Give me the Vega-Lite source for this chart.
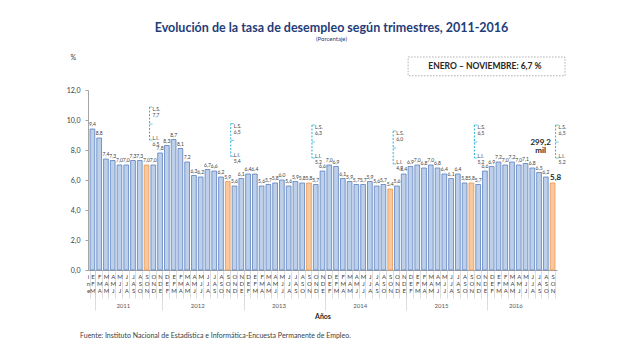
{
"$schema": "https://vega.github.io/schema/vega-lite/v6.json",
"width": 469, "height": 180,
"autosize": "none",
"padding": {"left": 88, "top": 90, "right": 83, "bottom": 90},
"background": "white",
"config": {"font": "Lato", "view": {"stroke": null}},
"title": {"text": "Evolución de la tasa de desempleo según trimestres, 2011-2016", "subtitle": "(Porcentaje)", "anchor": "middle", "frame": "group", "fontSize": 12.5, "fontWeight": "bold", "color": "#1f3d7a", "subtitleFontSize": 6, "subtitleColor": "#1f3d7a", "subtitlePadding": 2, "offset": 11, "dx": 9},
"datasets": {
"trim": [
{"key":"2011 EFM","m":"EFM","v":9.4},{"key":"2011 FMA","m":"FMA","v":8.8},{"key":"2011 MAM","m":"MAM","v":7.4},{"key":"2011 AMJ","m":"AMJ","v":7.3},{"key":"2011 MJJ","m":"MJJ","v":7.0},{"key":"2011 JJA","m":"JJA","v":7.0},{"key":"2011 JAS","m":"JAS","v":7.3},{"key":"2011 ASO","m":"ASO","v":7.3},{"key":"2011 SON","m":"SON","v":7.0,"ls":7.7,"li":6.5},{"key":"2011 OND","m":"OND","v":7.0},
{"key":"2012 NDE","m":"NDE","v":7.8},{"key":"2012 DEF","m":"DEF","v":8.3},{"key":"2012 EFM","m":"EFM","v":8.7},{"key":"2012 FMA","m":"FMA","v":8.1},{"key":"2012 MAM","m":"MAM","v":7.2},{"key":"2012 AMJ","m":"AMJ","v":6.3},{"key":"2012 MJJ","m":"MJJ","v":6.2},{"key":"2012 JJA","m":"JJA","v":6.7},{"key":"2012 JAS","m":"JAS","v":6.6},{"key":"2012 ASO","m":"ASO","v":6.2},{"key":"2012 SON","m":"SON","v":5.9,"ls":6.5,"li":5.4},{"key":"2012 OND","m":"OND","v":5.6},
{"key":"2013 NDE","m":"NDE","v":6.1},{"key":"2013 DEF","m":"DEF","v":6.4},{"key":"2013 EFM","m":"EFM","v":6.4},{"key":"2013 FMA","m":"FMA","v":5.6},{"key":"2013 MAM","m":"MAM","v":5.7},{"key":"2013 AMJ","m":"AMJ","v":5.8},{"key":"2013 MJJ","m":"MJJ","v":6.0},{"key":"2013 JJA","m":"JJA","v":5.6},{"key":"2013 JAS","m":"JAS","v":5.9},{"key":"2013 ASO","m":"ASO","v":5.8},{"key":"2013 SON","m":"SON","v":5.8,"ls":6.3,"li":5.2},{"key":"2013 OND","m":"OND","v":5.7},
{"key":"2014 NDE","m":"NDE","v":6.6},{"key":"2014 DEF","m":"DEF","v":7.0},{"key":"2014 EFM","m":"EFM","v":6.9},{"key":"2014 FMA","m":"FMA","v":6.1},{"key":"2014 MAM","m":"MAM","v":5.9},{"key":"2014 AMJ","m":"AMJ","v":5.7},{"key":"2014 MJJ","m":"MJJ","v":5.7},{"key":"2014 JJA","m":"JJA","v":5.9},{"key":"2014 JAS","m":"JAS","v":5.6},{"key":"2014 ASO","m":"ASO","v":5.7},{"key":"2014 SON","m":"SON","v":5.4,"ls":6.0,"li":4.9},{"key":"2014 OND","m":"OND","v":5.6},
{"key":"2015 NDE","m":"NDE","v":6.4},{"key":"2015 DEF","m":"DEF","v":6.9},{"key":"2015 EFM","m":"EFM","v":7.0},{"key":"2015 FMA","m":"FMA","v":6.8},{"key":"2015 MAM","m":"MAM","v":7.0},{"key":"2015 AMJ","m":"AMJ","v":6.8},{"key":"2015 MJJ","m":"MJJ","v":6.4},{"key":"2015 JJA","m":"JJA","v":6.1},{"key":"2015 JAS","m":"JAS","v":6.4},{"key":"2015 ASO","m":"ASO","v":5.8},{"key":"2015 SON","m":"SON","v":5.8,"ls":6.5,"li":5.2},{"key":"2015 OND","m":"OND","v":5.7},
{"key":"2016 NDE","m":"NDE","v":6.6},{"key":"2016 DEF","m":"DEF","v":6.9},{"key":"2016 EFM","m":"EFM","v":7.2},{"key":"2016 FMA","m":"FMA","v":7.0},{"key":"2016 MAM","m":"MAM","v":7.2},{"key":"2016 AMJ","m":"AMJ","v":7.0},{"key":"2016 MJJ","m":"MJJ","v":7.1},{"key":"2016 JJA","m":"JJA","v":6.8},{"key":"2016 JAS","m":"JAS","v":6.5},{"key":"2016 ASO","m":"ASO","v":6.2},{"key":"2016 SON","m":"SON","v":5.8,"ls":6.5,"li":5.2,"mil":299.2}
],
"notes": [{"box": "ENERO – NOVIEMBRE: 6,7 %", "src": "Fuente: Instituto Nacional de Estadística e Informática-Encuesta Permanente de Empleo."}]
},
"data": {"name": "trim"},
"transform": [{"calculate": "replace(format(datum.v,'.1f'),'.',',')", "as": "lbl"}],
"resolve": {"axis": {"x": "independent"}},
"layer": [
{
"mark": {"type": "bar", "strokeWidth": 0.8},
"encoding": {
"x": {"field": "key", "type": "nominal", "sort": null,
 "scale": {"paddingInner": 0.3, "paddingOuter": 0.3, "domain": ["2011 EFM","2011 FMA","2011 MAM","2011 AMJ","2011 MJJ","2011 JJA","2011 JAS","2011 ASO","2011 SON","2011 OND","2012 NDE","2012 DEF","2012 EFM","2012 FMA","2012 MAM","2012 AMJ","2012 MJJ","2012 JJA","2012 JAS","2012 ASO","2012 SON","2012 OND","2013 NDE","2013 DEF","2013 EFM","2013 FMA","2013 MAM","2013 AMJ","2013 MJJ","2013 JJA","2013 JAS","2013 ASO","2013 SON","2013 OND","2014 NDE","2014 DEF","2014 EFM","2014 FMA","2014 MAM","2014 AMJ","2014 MJJ","2014 JJA","2014 JAS","2014 ASO","2014 SON","2014 OND","2015 NDE","2015 DEF","2015 EFM","2015 FMA","2015 MAM","2015 AMJ","2015 MJJ","2015 JJA","2015 JAS","2015 ASO","2015 SON","2015 OND","2016 NDE","2016 DEF","2016 EFM","2016 FMA","2016 MAM","2016 AMJ","2016 MJJ","2016 JJA","2016 JAS","2016 ASO","2016 SON"]},
 "axis": {"orient": "bottom", "title": null, "labelExpr": "[substring(datum.value,5,6), substring(datum.value,6,7), substring(datum.value,7,8)]", "labelAngle": 0, "labelFontSize": 6, "labelColor": "#404040", "labelLineHeight": 7, "labelBaseline": "top", "labelPadding": -25, "tickBand": "extent", "tickSize": 28, "tickColor": "#c8c8c8", "tickWidth": 0.6, "domainColor": "#a6a6a6", "labelOverlap": false, "labelBound": false}},
"y": {"field": "v", "type": "quantitative", "scale": {"domain": [0, 12]},
 "axis": {"orient": "left", "title": "%", "titleAngle": 0, "titleX": -18, "titleY": -33, "titleFontSize": 7, "titleFontWeight": "normal", "titleColor": "#404040", "titleAlign": "left", "titleBaseline": "middle", "values": [0,2,4,6,8,10,12], "tickCount": 7, "labelOverlap": false, "labelExpr": "replace(format(datum.value,'.1f'),'.',',')", "labelFontSize": 7, "labelColor": "#404040", "labelPadding": 5, "tickSize": 3, "tickColor": "#a6a6a6", "domainColor": "#a6a6a6", "grid": false}},
"fill": {"condition": {"test": "datum.m === 'SON'", "value": "#f8c9a0"}, "value": "#bdd0ea"},
"stroke": {"condition": {"test": "datum.m === 'SON'", "value": "#e8964b"}, "value": "#5b7fbf"}
}
},
{
"transform": [{"filter": "datum.key !== '2016 SON'"}],
"mark": {"type": "text", "fontSize": 5, "color": "#404040", "baseline": "bottom", "dy": -2},
"encoding": {
"x": {"field": "key", "type": "nominal", "sort": null,
 "axis": {"orient": "bottom", "title": "Años", "titleFontSize": 7, "titleFontWeight": "bold", "titleColor": "#262626", "titleY": 42, "titleBaseline": "top", "domain": false, "tickBand": "extent", "tickSize": 40, "tickColor": "#c8c8c8", "tickWidth": 0.6, "tickOpacity": {"condition": {"test": "datum.value === '2011 EFM' || substring(datum.value,5,8) === 'NDE'", "value": 1}, "value": 0}, "labelExpr": "indexof(['2011 JJA','2012 MJJ','2013 MJJ','2014 MJJ','2015 MJJ','2016 AMJ'], datum.value) >= 0 ? substring(datum.value,0,4) : ''", "labelAngle": 0, "labelFontSize": 6, "labelColor": "#595959", "labelBaseline": "top", "labelPadding": -8, "labelOffset": -3.4, "labelOverlap": false, "labelBound": false}},
"y": {"field": "v", "type": "quantitative"},
"text": {"field": "lbl"}
}
},
{
"transform": [{"filter": "datum.key === '2016 SON'"}],
"mark": {"type": "text", "fontSize": 8, "fontWeight": "bold", "color": "#262626", "baseline": "bottom", "dy": -1, "dx": 3},
"encoding": {
"x": {"field": "key", "type": "nominal", "sort": null, "axis": null},
"y": {"field": "v", "type": "quantitative"},
"text": {"field": "lbl"}
}
},
{
"transform": [{"filter": "isValid(datum.mil)"}, {"calculate": "replace(format(datum.mil,'.1f'),'.',',') + '\\nmil'", "as": "miltxt"}],
"mark": {"type": "text", "fontSize": 8, "fontWeight": "bold", "color": "#262626", "baseline": "bottom", "lineBreak": "\n", "lineHeight": 8, "dy": -36, "dx": -12},
"encoding": {
"x": {"field": "key", "type": "nominal", "sort": null, "axis": null},
"y": {"field": "v", "type": "quantitative"},
"text": {"field": "miltxt"}
}
},
{
"transform": [{"filter": "isValid(datum.ls)"}],
"mark": {"type": "rule", "color": "#2ab3d6", "strokeWidth": 1, "strokeDash": [2, 1.5], "xOffset": 3, "yOffset": -58, "y2Offset": -25},
"encoding": {
"x": {"field": "key", "type": "nominal", "sort": null, "axis": null},
"y": {"field": "v", "type": "quantitative"},
"y2": {"field": "v"}
}
},
{
"transform": [{"filter": "isValid(datum.ls)"}],
"mark": {"type": "tick", "color": "#2ab3d6", "size": 3, "thickness": 1, "xOffset": 4.5, "yOffset": -58},
"encoding": {
"x": {"field": "key", "type": "nominal", "sort": null, "axis": null},
"y": {"field": "v", "type": "quantitative"}
}
},
{
"transform": [{"filter": "isValid(datum.ls)"}],
"mark": {"type": "tick", "color": "#2ab3d6", "size": 3, "thickness": 1, "xOffset": 4.5, "yOffset": -41},
"encoding": {
"x": {"field": "key", "type": "nominal", "sort": null, "axis": null},
"y": {"field": "v", "type": "quantitative"}
}
},
{
"transform": [{"filter": "isValid(datum.ls)"}],
"mark": {"type": "tick", "color": "#2ab3d6", "size": 3, "thickness": 1, "xOffset": 4.5, "yOffset": -25},
"encoding": {
"x": {"field": "key", "type": "nominal", "sort": null, "axis": null},
"y": {"field": "v", "type": "quantitative"}
}
},
{
"transform": [{"filter": "isValid(datum.ls)"}, {"calculate": "'L.S.\\n' + replace(format(datum.ls,'.1f'),'.',',')", "as": "lstxt"}],
"mark": {"type": "text", "fontSize": 5, "color": "#404040", "align": "left", "baseline": "top", "lineBreak": "\n", "lineHeight": 6, "dx": 6, "dy": -58},
"encoding": {
"x": {"field": "key", "type": "nominal", "sort": null, "axis": null},
"y": {"field": "v", "type": "quantitative"},
"text": {"field": "lstxt"}
}
},
{
"transform": [{"filter": "isValid(datum.li)"}, {"calculate": "'L.I.\\n' + replace(format(datum.li,'.1f'),'.',',')", "as": "litxt"}],
"mark": {"type": "text", "fontSize": 5, "color": "#404040", "align": "left", "baseline": "bottom", "lineBreak": "\n", "lineHeight": 6, "dx": 6, "dy": -24},
"encoding": {
"x": {"field": "key", "type": "nominal", "sort": null, "axis": null},
"y": {"field": "v", "type": "quantitative"},
"text": {"field": "litxt"}
}
},
{
"data": {"name": "notes"},
"mark": {"type": "rect", "fill": "white", "stroke": "#9a9a9a", "strokeWidth": 0.8, "strokeDash": [1.5, 1.5], "x2Offset": 10},
"encoding": {
"x": {"datum": "2015 DEF", "bandPosition": 0, "axis": null},
"x2": {"datum": "2016 SON", "bandPosition": 1},
"y": {"datum": 14.2},
"y2": {"datum": 12.95}
}
},
{
"data": {"name": "notes"},
"mark": {"type": "text", "fontSize": 8.5, "fontWeight": "bold", "color": "#262626"},
"encoding": {
"x": {"datum": "2016 NDE", "axis": null},
"y": {"datum": 13.57},
"text": {"field": "box"}
}
},
{
"data": {"name": "notes"},
"mark": {"type": "text", "fontSize": 7, "color": "#404040", "align": "left", "baseline": "middle", "dx": -10},
"encoding": {
"x": {"datum": "2011 EFM", "bandPosition": 0, "axis": null},
"y": {"datum": -4.4},
"text": {"field": "src"}
}
}
]
}
